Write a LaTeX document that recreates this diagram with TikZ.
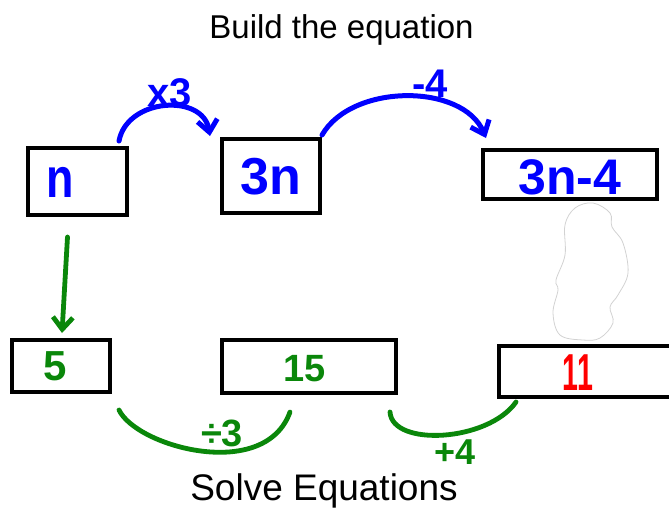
\documentclass[tikz,border=0pt]{standalone}
\usepackage{fontspec}
\setmainfont{Liberation Sans}
\usetikzlibrary{arrows.meta,calc}
\definecolor{penblue}{RGB}{0,0,255}
\definecolor{pengreen}{RGB}{10,135,10}
\definecolor{penred}{RGB}{255,0,0}

\begin{document}
\begin{tikzpicture}[x=0.5pt, y=-0.5pt, >={Straight Barb[length=6pt,width=10pt]},
  box/.style={draw, line width=2pt, inner sep=0pt},
  hand/.style={font=\fontsize{#1}{#1}\selectfont\bfseries},
  blueline/.style={penblue, line width=2.5pt, line cap=round, line join=round},
  greenline/.style={pengreen, line width=2.4pt, line cap=round, line join=round}]
% page is 669 by 510, y runs down
\useasboundingbox (0,0) rectangle (669,510);
% titles
\node[font=\fontsize{16.5}{18}\selectfont, anchor=base] (build) at (341.5,38) {Build the equation};
\node[font=\fontsize{18.5}{20}\selectfont, anchor=base] (solve) at (324,500) {Solve Equations};
% top row, building up
\node[box, minimum width=49.5pt, minimum height=33.5pt] (n) at (77.5,181.5) {};
\node[box, minimum width=49pt, minimum height=37pt] (tn) at (271,176) {};
\node[box, minimum width=87pt, minimum height=24.5pt] (tnm) at (570,174.5) {};
\node[hand=28, penblue, xscale=0.8] (ntext) at (60,182) {n};
\node[hand=26, penblue] (tntext) at (271,177) {3n};
\node[hand=25, penblue] (tnmtext) at (570,177) {3n-4};
% bottom row, solving back
\node[box, minimum width=49pt, minimum height=26pt] (five) at (61,366) {};
\node[box, minimum width=87pt, minimum height=26.5pt] (fifteen) at (309,366.5) {};
\node[box, minimum width=88pt, minimum height=25.5pt] (eleven) at (587,371.5) {};
\node[hand=21, pengreen] (fivetext) at (55,366) {5};
\node[hand=19, pengreen] (fifteentext) at (305,369) {15};
\node[hand=26, penred, xscale=0.55] (eleventext) at (578,373) {11};
% what was rubbed out
\draw[gray!35, line width=0.4pt] plot[smooth cycle, tension=0.6] coordinates {
  (593,203) (610,213) (612,227) (623,243) (628,273) (618,295) (610,307)
  (613,323) (600,338) (583,340) (560,335) (553,313) (558,290) (556,280)
  (565,255) (565,225) (575,208)};
% blue steps
\draw[blueline, ->] ($(n.north east)+(-10,-5)$) .. controls +(8,-43) and +(-7,-43) .. ($(tn.north west)+(-10,-1)$);
\node[hand=20, penblue] (times) at (170,93) {x3};
\draw[blueline, ->] ($(tn.north east)+(0,-2)$) .. controls +(30,-52) and +(-23,-55) .. ($(tnm.north west)+(5,-10)$);
\node[hand=20, penblue] (minus) at (430,84) {-4};
% green steps
\draw[greenline, ->] ($(n.south)+(-10,20)$) -- ($(five.north)+(1,-5)$);
\draw[greenline] ($(five.south east)+(7,16)$) .. controls +(18,37) and +(-25,70) .. ($(fifteen.south)+(-19,17)$);
\node[hand=19, pengreen] (divide) at (222,433) {÷3};
\draw[greenline] ($(fifteen.south east)+(-8,17)$) .. controls +(2,35) and +(-28,40) .. ($(eleven.south west)+(19,3)$);
\node[hand=18, pengreen] (plus) at (455,452) {+4};
\end{tikzpicture}
\end{document}
